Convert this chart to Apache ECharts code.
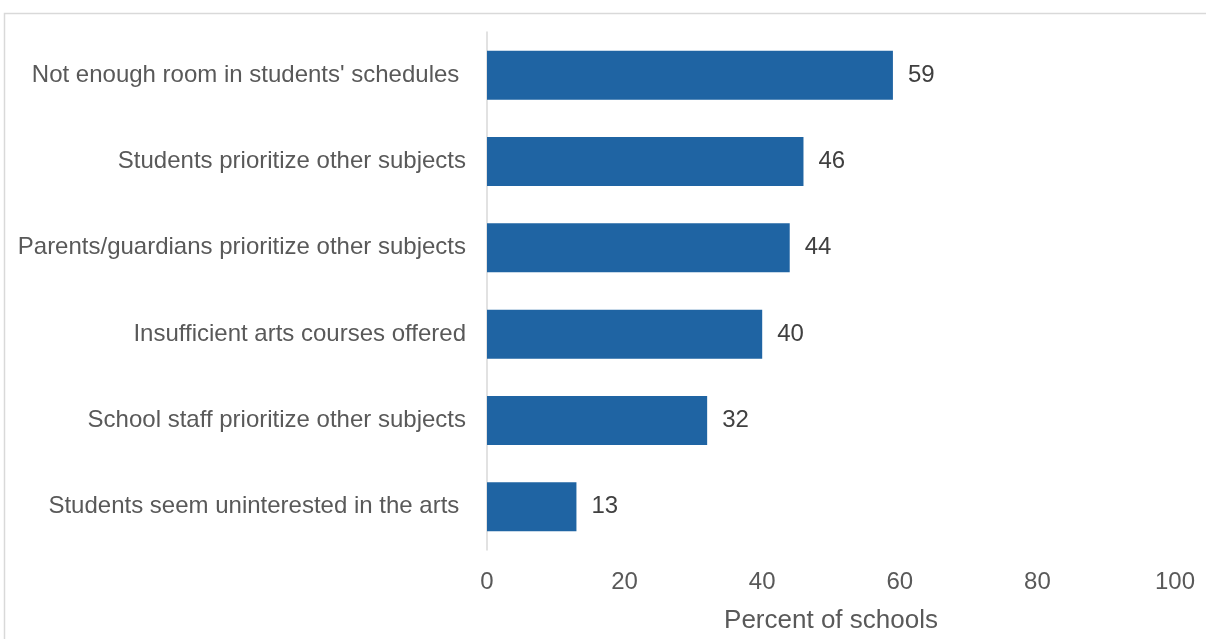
<!DOCTYPE html>
<html>
<head>
<meta charset="utf-8">
<script src="https://cdn.jsdelivr.net/npm/echarts@6/dist/echarts.min.js"></script>
<style>
  html, body { margin: 0; padding: 0; background: #ffffff; }
  #chart { width: 1206px; height: 639px; }
</style>
</head>
<body>
<div id="chart"></div>
<script>
// Reasons listed, top to bottom
const categories = [
  "Not enough room in students' schedules ",
  "Students prioritize other subjects",
  "Parents/guardians prioritize other subjects",
  "Insufficient arts courses offered",
  "School staff prioritize other subjects",
  "Students seem uninterested in the arts "
];
const percentValues = [59, 46, 44, 40, 32, 13];
const xTicks = [0, 20, 40, 60, 80, 100];
const axisTitle = 'Percent of schools';

const chart = echarts.init(document.getElementById('chart'), null, { renderer: 'canvas' });

const fontFamily = '"Liberation Sans", Arial, sans-serif';

chart.setOption({
  animation: false,
  backgroundColor: '#ffffff',
  graphic: [{
    type: 'rect',
    shape: { x: 4.5, y: 13.5, width: 1300, height: 700 },
    style: { fill: 'none', stroke: '#d9d9d9', lineWidth: 1.5 },
    silent: true
  }],
  grid: { left: 487, right: 31, top: 32, bottom: 89, containLabel: false },
  xAxis: {
    type: 'value',
    min: xTicks[0],
    max: xTicks[xTicks.length - 1],
    interval: xTicks[1] - xTicks[0],
    name: axisTitle,
    nameLocation: 'middle',
    nameGap: 58,
    nameTextStyle: { color: '#595959', fontSize: 26, fontFamily },
    axisLine: { show: false },
    axisTick: { show: false },
    splitLine: { show: false },
    axisLabel: { color: '#595959', fontSize: 24, fontFamily, margin: 20 }
  },
  yAxis: {
    type: 'category',
    data: categories,
    inverse: true,
    axisLine: { show: true, lineStyle: { color: '#d9d9d9', width: 1.5 } },
    axisTick: { show: false },
    axisLabel: { color: '#595959', fontSize: 24, fontFamily, margin: 21 }
  },
  series: [{
    type: 'bar',
    data: percentValues,
    barWidth: 49,
    itemStyle: { color: '#1f64a3' },
    label: {
      show: true,
      position: 'right',
      distance: 15,
      color: '#404040',
      fontSize: 24,
      fontFamily
    }
  }]
});
</script>
</body>
</html>
